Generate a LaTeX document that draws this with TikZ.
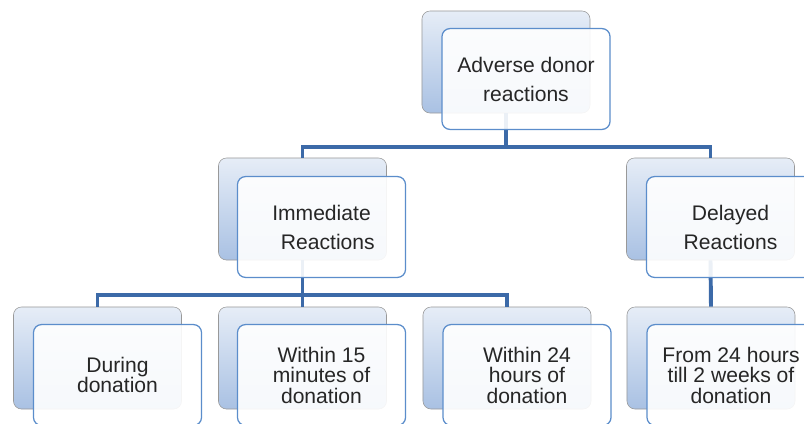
\documentclass[tikz,border=0pt]{standalone}
\usepackage{fontspec}
\setmainfont{Liberation Sans}
\usetikzlibrary{positioning}

\definecolor{linkblue}{HTML}{3C6AA8}
\definecolor{edgeblue}{HTML}{5B8DCB}
\definecolor{bgtop}{HTML}{E6EDF7}
\definecolor{bgbottom}{HTML}{A9C1E3}
\newcommand\tightsetting{\fontsize{15}{14.6}\selectfont\lineskiplimit=-20pt\relax}

\begin{document}
\begin{tikzpicture}[x=0.025cm, y=-0.025cm,
    backbox/.style={rectangle, rounded corners=0.2cm, minimum width=4.2cm, minimum height=2.55cm,
        draw=gray!80, top color=bgtop, bottom color=bgbottom},
    frontbox/.style={rectangle, rounded corners=0.2cm, minimum width=4.2cm, minimum height=2.52cm,
        draw=edgeblue, line width=0.9pt, fill=white, fill opacity=0.9, text opacity=1,
        text=black!85, align=center, font=\fontsize{15}{20.6}\selectfont},
    tight/.style={font=\tightsetting},
    link/.style={draw=linkblue, line width=2.8pt}]
    \clip (0,0) rectangle (804,423);
    \useasboundingbox (0,0) rectangle (804,423);

    % back boxes
    \node[backbox] (AdverseBg) at (506,62) {};
    \node[backbox] (ImmediateBg) at (302.5,209) {};
    \node[backbox] (DelayedBg) at (710.5,209) {};
    \node[backbox] (DuringBg) at (97.5,358) {};
    \node[backbox] (Within15Bg) at (302.5,358) {};
    \node[backbox] (Within24Bg) at (507,358) {};
    \node[backbox] (LaterBg) at (711,358) {};

    % connectors
    \draw[link] (AdverseBg.south) -- ++(0,34) -| (ImmediateBg.north);
    \draw[link] (AdverseBg.south) -- ++(0,34) -| (DelayedBg.north);
    \draw[link] (ImmediateBg.south) -- ++(0,35) -| (DuringBg.north);
    \draw[link] (ImmediateBg.south) -- ++(0,35) -| (Within15Bg.north);
    \draw[link] (ImmediateBg.south) -- ++(0,35) -| (Within24Bg.north);
    \draw[link] (DelayedBg.south) -- (LaterBg.north);

    % front boxes
    \node[frontbox] (Adverse) at ([shift={(20,17)}]AdverseBg.center) {Adverse donor\\reactions};
    \node[frontbox] (Immediate) at ([shift={(19,18)}]ImmediateBg.center) {Immediate\\\hspace*{0.6em}Reactions};
    \node[frontbox] (Delayed) at ([shift={(20,18)}]DelayedBg.center) {Delayed\\Reactions};
    \node[frontbox, tight] (During) at ([shift={(20,17)}]DuringBg.center) {During\\donation};
    \node[frontbox, tight] (Within15) at ([shift={(19,17)}]Within15Bg.center) {Within 15\\minutes of\\donation};
    \node[frontbox, tight] (Within24) at ([shift={(20,17)}]Within24Bg.center) {Within 24\\hours of\\donation};
    \node[frontbox, tight] (Later) at ([shift={(20,17)}]LaterBg.center) {From 24 hours\\till 2 weeks of\\donation};
\end{tikzpicture}
\end{document}
